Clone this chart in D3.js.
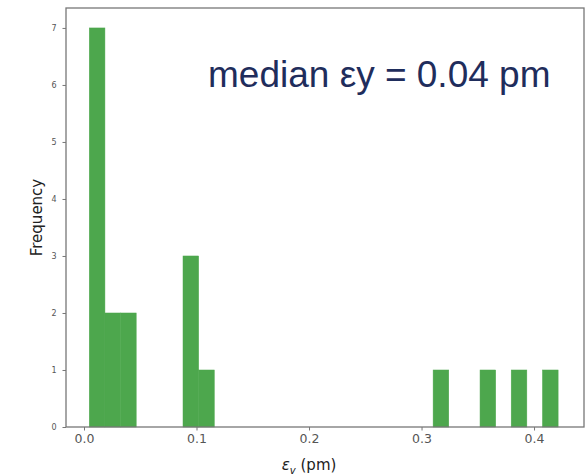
<!DOCTYPE html>
<html>
<head>
<meta charset="utf-8">
<script src="https://cdn.jsdelivr.net/npm/d3@7"></script>
<style>
  body { margin: 0; background: #fff; }
</style>
</head>
<body>
<div id="container"></div>
<script>
// histogram of emittance values, 30 bins (only non-empty bins kept)
let binWidth = 0.01389;
let binStarts = [0.0047, 0.0186, 0.0325, 0.0880, 0.1019, 0.3103, 0.3520, 0.3797, 0.4075];
let binCounts = [7, 2, 2, 3, 1, 1, 1, 1, 1];
let xTicks = [0.0, 0.1, 0.2, 0.3, 0.4];
let yTicks = [0, 1, 2, 3, 4, 5, 6, 7];
let note = "median εy = 0.04 pm";

let w = 587;
let h = 476;
let plotLeft = 66, plotRight = 584, plotTop = 8, plotBottom = 427;

let viz = d3.select("#container")
  .append("svg")
    .attr("width", w)
    .attr("height", h)
    .style("background-color", "white");

let xScale = d3.scaleLinear().domain([-0.016, 0.4444]).range([plotLeft, plotRight]);
let yScale = d3.scaleLinear().domain([0, 7.35]).range([plotBottom, plotTop]);

let bins = binStarts.map(function(d, i) {
  return { x0: d, x1: d + binWidth, count: binCounts[i] };
});

// bars
viz.selectAll(".bar").data(bins).enter()
  .append("rect")
    .attr("class", "bar")
    .attr("x", d => xScale(d.x0))
    .attr("width", d => xScale(d.x1) - xScale(d.x0))
    .attr("y", d => yScale(d.count))
    .attr("height", d => yScale(0) - yScale(d.count))
    .attr("fill", "#4da74d")
    .attr("stroke", "#4da74d")
    .attr("stroke-width", 0.5);

// axes
let xAxis = viz.append("g")
  .attr("transform", "translate(0," + plotBottom + ")")
  .call(d3.axisBottom(xScale).tickValues(xTicks).tickFormat(d3.format(".1f")).tickSize(3.5).tickPadding(4));
xAxis.selectAll("text")
  .style("font-family", "DejaVu Sans")
  .style("font-size", "12.5px")
  .style("fill", "#555");

let yAxis = viz.append("g")
  .attr("transform", "translate(" + plotLeft + ",0)")
  .call(d3.axisLeft(yScale).tickValues(yTicks).tickFormat(d3.format("d")).tickSize(3.5).tickPadding(6));
yAxis.selectAll("text")
  .style("font-family", "DejaVu Sans")
  .style("font-size", "8px")
  .style("fill", "#555");

viz.selectAll(".domain").remove();
viz.selectAll(".tick line").style("stroke", "#777");

// frame
viz.append("rect")
  .attr("x", plotLeft)
  .attr("y", plotTop)
  .attr("width", plotRight - plotLeft)
  .attr("height", plotBottom - plotTop)
  .attr("fill", "none")
  .attr("stroke", "#777")
  .attr("stroke-width", 1.3);

// labels
viz.append("text")
  .attr("transform", "translate(42," + (plotTop + plotBottom) / 2 + ") rotate(-90)")
  .attr("text-anchor", "middle")
  .style("font-family", "DejaVu Sans")
  .style("font-size", "15px")
  .style("fill", "#222")
  .text("Frequency");

let xl = viz.append("text")
  .attr("x", xScale(0.2))
  .attr("y", 470)
  .attr("text-anchor", "middle")
  .style("font-family", "DejaVu Sans")
  .style("font-size", "15px")
  .style("fill", "#222");
xl.append("tspan").style("font-style", "italic").text("ε");
xl.append("tspan").attr("dy", 4).style("font-size", "10px").style("font-style", "italic").text("v");
xl.append("tspan").attr("dy", -4).text(" (pm)");

viz.append("text")
  .attr("x", 208)
  .attr("y", 87)
  .style("font-family", "Liberation Sans")
  .style("font-size", "37px")
  .style("fill", "#1f2d5c")
  .text(note);
</script>
</body>
</html>
